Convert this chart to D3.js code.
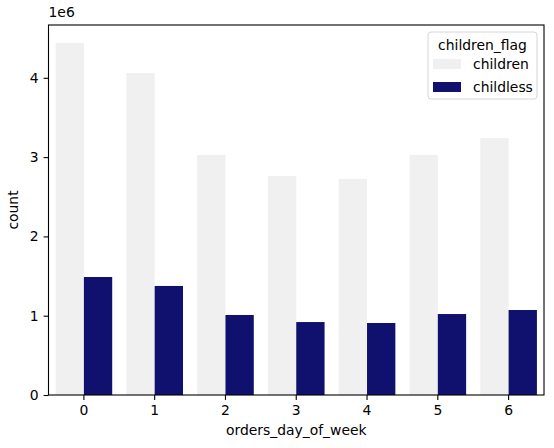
<!DOCTYPE html>
<html>
<head>
<meta charset="utf-8">
<script src="https://cdn.jsdelivr.net/npm/d3@7"></script>
<style>
  body { margin: 0; background: #fff; }
  text { font-family: "DejaVu Sans", sans-serif; fill: #000; }
</style>
</head>
<body>
<div id="chart"></div>
<script>
// counts per day of week, split by children_flag
var days = ["0", "1", "2", "3", "4", "5", "6"];
var groups = ["children", "childless"];
var childrenCounts = [4440000, 4060000, 3026000, 2762000, 2724000, 3026000, 3240000];
var childlessCounts = [1488000, 1375000, 1009000, 920000, 908000, 1021000, 1072000];
var yTicks = [0, 1, 2, 3, 4];
var colors = ["#f0f0f0", "#10106e"];

var data = days.map(function (d, i) {
    return { day: d, values: [childrenCounts[i], childlessCounts[i]] };
});

var margin = { top: 25, right: 10, bottom: 53, left: 48.5 },
    width = 554 - margin.left - margin.right,
    height = 448 - margin.top - margin.bottom;

var svg = d3.select("#chart")
    .append("svg")
    .attr("width", 554)
    .attr("height", 448)
    .append("g")
    .attr("transform", "translate(" + margin.left + "," + margin.top + ")");

var x = d3.scaleBand()
    .domain(days)
    .range([0, width])
    .paddingInner(0.2)
    .paddingOuter(0.1);

var xInner = d3.scaleBand()
    .domain(groups)
    .range([0, x.bandwidth()]);

var y = d3.scaleLinear()
    .domain([0, 4.666e6])
    .range([height, 0]);

var dayG = svg.selectAll(".day")
    .data(data)
    .enter().append("g")
    .attr("transform", function (d) { return "translate(" + x(d.day) + ",0)"; });

dayG.selectAll("rect")
    .data(function (d) { return d.values.map(function (v, i) { return { key: groups[i], value: v, i: i }; }); })
    .enter().append("rect")
    .attr("x", function (d) { return xInner(d.key); })
    .attr("width", xInner.bandwidth())
    .attr("y", function (d) { return y(d.value); })
    .attr("height", function (d) { return height - y(d.value); })
    .attr("fill", function (d) { return colors[d.i]; });

// axes
var xAxis = svg.append("g")
    .attr("transform", "translate(0," + height + ")")
    .call(d3.axisBottom(x).tickSize(4.9).tickPadding(4.9));
var yAxis = svg.append("g")
    .call(d3.axisLeft(y).tickValues(yTicks.map(function (t) { return t * 1e6; }))
        .tickFormat(function (t) { return t / 1e6; })
        .tickSize(4.9).tickPadding(4.9));

[xAxis, yAxis].forEach(function (a) {
    a.selectAll("text").style("font-size", "13.9px").attr("fill", "#000");
    a.selectAll("line").attr("stroke", "#000").attr("stroke-width", 1.1);
    a.select(".domain").remove();
});

// frame
svg.append("rect")
    .attr("width", width).attr("height", height)
    .attr("fill", "none").attr("stroke", "#000").attr("stroke-width", 1.1);

svg.append("text")
    .attr("x", 0).attr("y", -8)
    .style("font-size", "13.9px")
    .text("1e6");

svg.append("text")
    .attr("x", width / 2).attr("y", height + 40)
    .attr("text-anchor", "middle")
    .style("font-size", "13.9px")
    .text("orders_day_of_week");

svg.append("text")
    .attr("transform", "translate(-31," + height / 2 + ") rotate(-90)")
    .attr("text-anchor", "middle")
    .style("font-size", "13.9px")
    .text("count");

// legend
var legend = svg.append("g")
    .attr("transform", "translate(" + (width - 116) + ",7)");
legend.append("rect")
    .attr("width", 109).attr("height", 67).attr("rx", 3)
    .attr("fill", "#fff").attr("fill-opacity", 0.8)
    .attr("stroke", "#d6d6d6");
legend.append("text")
    .attr("x", 54.5).attr("y", 18)
    .attr("text-anchor", "middle")
    .style("font-size", "13.9px")
    .text("children_flag");
groups.forEach(function (g, i) {
    legend.append("rect")
        .attr("x", 5).attr("y", 27 + i * 23)
        .attr("width", 28).attr("height", 10)
        .attr("fill", colors[i]);
    legend.append("text")
        .attr("x", 45).attr("y", 37 + i * 23)
        .style("font-size", "13.9px")
        .text(g);
});
</script>
</body>
</html>
